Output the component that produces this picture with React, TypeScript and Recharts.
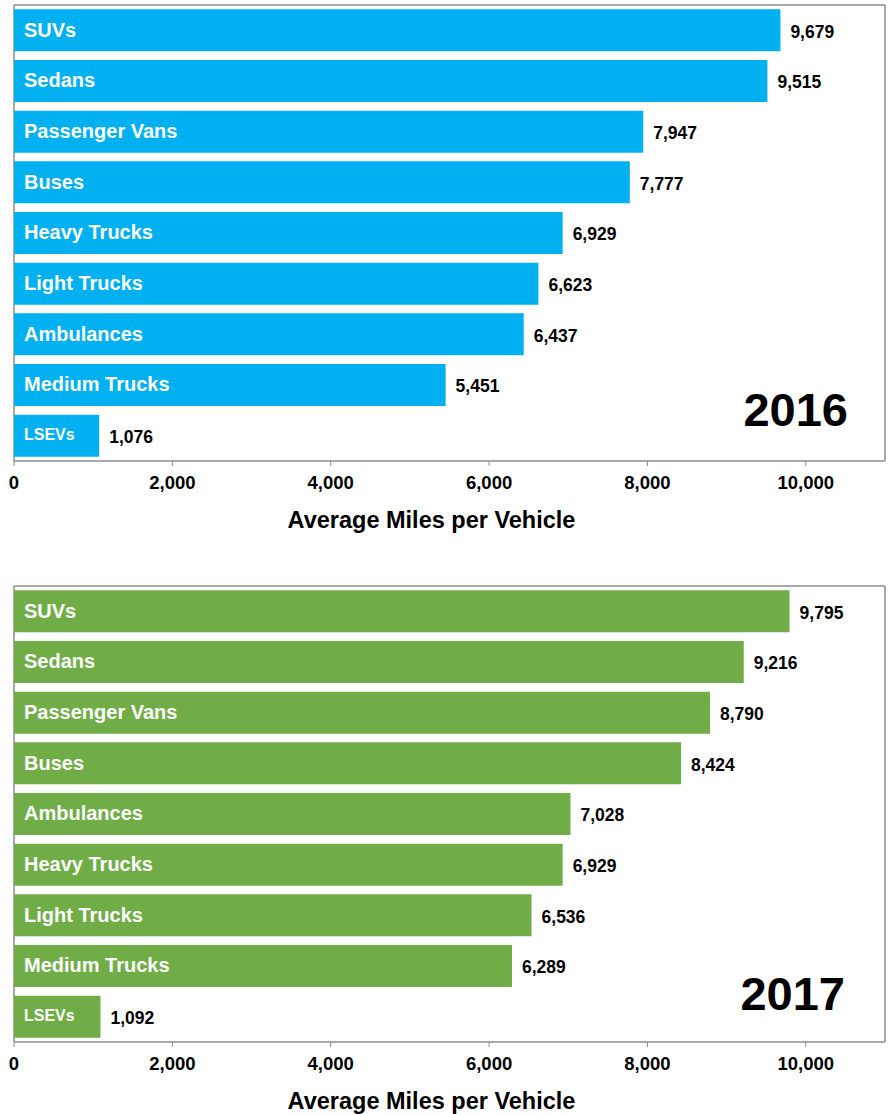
import React from 'react';
import { BarChart, Bar, XAxis, YAxis, LabelList, CartesianGrid } from 'recharts';

const categories2016 = ['SUVs', 'Sedans', 'Passenger Vans', 'Buses', 'Heavy Trucks', 'Light Trucks', 'Ambulances', 'Medium Trucks', 'LSEVs'];
const values2016 = [9679, 9515, 7947, 7777, 6929, 6623, 6437, 5451, 1076];
const categories2017 = ['SUVs', 'Sedans', 'Passenger Vans', 'Buses', 'Ambulances', 'Heavy Trucks', 'Light Trucks', 'Medium Trucks', 'LSEVs'];
const values2017 = [9795, 9216, 8790, 8424, 7028, 6929, 6536, 6289, 1092];
const xTicks = [0, 2000, 4000, 6000, 8000, 10000];
const axisTitle = 'Average Miles per Vehicle';

const FONT = '"Liberation Sans", Arial, Helvetica, sans-serif';
const GRID = '#8c8c8c';

const fmt = (v: number) => v.toLocaleString('en-US');

const InsideLabel = (props: any) => {
  const { x, y, width, height, value } = props;
  const small = width < 150;
  return (
    <text
      x={x + 10}
      y={y + height / 2 - 1}
      dy="0.36em"
      fill="#ffffff"
      fontWeight="bold"
      fontSize={small ? 16 : 20}
      fontFamily={FONT}
    >
      {value}
    </text>
  );
};

const ValueLabel = (props: any) => {
  const { x, y, width, height, value } = props;
  return (
    <text
      x={x + width + 10}
      y={y + height / 2 + 1}
      dy="0.36em"
      fill="#000000"
      fontWeight="bold"
      fontSize={17.5}
      fontFamily={FONT}
    >
      {fmt(value)}
    </text>
  );
};

type PanelProps = {
  categories: string[];
  values: number[];
  color: string;
  year: string;
  yearRight: number;
  yearTop: number;
};

const Panel = ({ categories, values, color, year, yearRight, yearTop }: PanelProps) => {
  const data = categories.map((name, i) => ({ name, value: values[i] }));
  return (
    <div style={{ position: 'relative', width: 890, height: 545 }}>
      <BarChart
        width={890}
        height={545}
        data={data}
        layout="vertical"
        margin={{ top: 5, right: 5, left: 14, bottom: 17 }}
        barCategoryGap="8.5%"
      >
        <CartesianGrid
          stroke={GRID}
          strokeWidth={1.5}
          verticalCoordinatesGenerator={(p: any) => [p.offset.left, p.offset.left + p.offset.width]}
          horizontalCoordinatesGenerator={(p: any) => [p.offset.top]}
        />
        <XAxis
          type="number"
          domain={[0, 11000]}
          ticks={xTicks}
          tickFormatter={fmt}
          axisLine={{ stroke: GRID, strokeWidth: 1.5 }}
          tickLine={{ stroke: GRID }}
          tickSize={5}
          tickMargin={10}
          height={67}
          tick={{ fill: '#000', fontSize: 18.5, fontWeight: 'bold', fontFamily: FONT }}
          label={{
            value: axisTitle,
            position: 'insideBottom',
            offset: 0,
            dx: -18,
            style: { fill: '#000', fontSize: 23.5, fontWeight: 'bold', fontFamily: FONT },
          }}
        />
        <YAxis
          type="category"
          dataKey="name"
          width={0}
          tick={false}
          tickLine={false}
          axisLine={{ stroke: GRID, strokeWidth: 1.5 }}
        />
        <Bar dataKey="value" fill={color} isAnimationActive={false}>
          <LabelList dataKey="name" content={InsideLabel} />
          <LabelList dataKey="value" content={ValueLabel} />
        </Bar>
      </BarChart>
      <div
        style={{
          position: 'absolute',
          right: yearRight,
          top: yearTop,
          fontFamily: FONT,
          fontWeight: 'bold',
          fontSize: 47,
          lineHeight: 1,
          color: '#000',
        }}
      >
        {year}
      </div>
    </div>
  );
};

export default function App() {
  return (
    <div style={{ position: 'absolute', left: 0, top: 0, width: 890, height: 1114, background: '#fff' }}>
      <Panel categories={categories2016} values={values2016} color="#00B0F0" year="2016" yearRight={42} yearTop={386} />
      <div style={{ height: 36 }} />
      <Panel categories={categories2017} values={values2017} color="#70AD47" year="2017" yearRight={45} yearTop={389} />
    </div>
  );
}
